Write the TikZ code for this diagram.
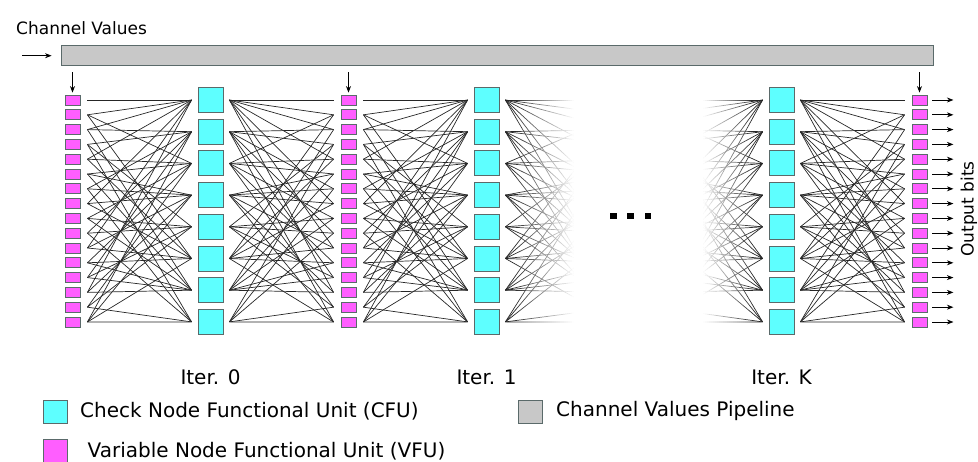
\documentclass[tikz,border=0pt]{standalone}
\usepackage{fontspec}
\setmainfont{DejaVu Sans}
\usetikzlibrary{arrows.meta}
\definecolor{vfu}{HTML}{FF5EFF}
\definecolor{cfu}{HTML}{5EFFFF}
\definecolor{pipe}{HTML}{C8C8C8}
\definecolor{boxline}{HTML}{5A6A6A}
\def\edgelist{0/0,1/0,1/2,1/5,2/1,2/0,2/6,3/1,3/4,3/7,4/2,4/0,4/5,5/2,5/6,5/3,6/3,6/1,6/7,7/3,7/0,7/5,8/4,8/2,8/6,9/4,9/1,9/7,10/5,10/3,10/0,11/5,11/6,11/2,12/6,12/4,12/1,13/6,13/3,13/0,14/7,14/2,14/4,15/7,15/1,15/3,15/5}
\begin{document}
\begin{tikzpicture}[x=1pt,y=-1pt,
  vfubox/.style={rectangle,draw=boxline,fill=vfu,line width=0.8pt,minimum width=15pt,minimum height=10pt,inner sep=0pt},
  cfubox/.style={rectangle,draw=boxline,fill=cfu,line width=0.8pt,minimum width=25pt,minimum height=25pt,inner sep=0pt},
  pipebox/.style={rectangle,draw=boxline,fill=pipe,line width=0.8pt,inner sep=0pt},
  edge/.style={draw=black!85,line width=0.7pt},
  arr/.style={-{Stealth[length=6.5pt,width=5pt]},line width=0.8pt},
  lbl/.style={font=\fontsize{20}{23}\selectfont,inner sep=0pt},
  small/.style={font=\fontsize{17}{20}\selectfont,inner sep=0pt},
]
\useasboundingbox (0,0) rectangle (978,462);

% columns of units
\foreach \n/\x in {vA/72.5, vB/348.5, vK/919.5}
  \foreach \i in {0,...,15}
    \node[vfubox] (\n-\i) at (\x,{100+14.8*\i}) {};
\foreach \n/\x in {cA/210.5, cB/486.5, cK/781.5}
  \foreach \j in {0,...,7}
    \node[cfubox] (\n-\j) at (\x,{100+31.7*\j}) {};
% hidden (faded) columns
\foreach \i in {0,...,15} {
  \coordinate (vC-\i) at (618,{100+14.8*\i});
  \coordinate (vJ-\i) at (657,{100+14.8*\i});
}

% edges
\foreach \v/\c in \edgelist {
  \draw[edge] ([xshift=7pt]vA-\v.east) -- ([xshift=-6pt]cA-\c.west);
  \draw[edge] ([xshift=6pt]cA-\c.east) -- ([xshift=-7pt]vB-\v.west);
  \draw[edge] ([xshift=7pt]vB-\v.east) -- ([xshift=-6pt]cB-\c.west);
  \draw[edge] ([xshift=6pt]cB-\c.east) -- (vC-\v);
  \draw[edge] (vJ-\v) -- ([xshift=-6pt]cK-\c.west);
  \draw[edge] ([xshift=6pt]cK-\c.east) -- ([xshift=-7pt]vK-\v.west);
}

% fading to white
\foreach \k in {0,...,29}
  \fill[white,fill opacity={(\k+0.5)/30}] ({514+2*\k},84) rectangle ({516+2*\k},340);
\fill[white] (574,84) rectangle (703,340);
\foreach \k in {0,...,24}
  \fill[white,fill opacity={1-(\k+0.5)/25}] ({703+2*\k},84) rectangle ({705+2*\k},340);

% redraw boxes on top
\foreach \n in {vA,vB,vK}
  \foreach \i in {0,...,15}
    \node[vfubox] at (\n-\i) {};
\foreach \n in {cA,cB,cK}
  \foreach \j in {0,...,7}
    \node[cfubox] at (\n-\j) {};

% dots
\foreach \x [count=\d] in {613.3,630.7,648}
  \node[fill=black,minimum size=6.5pt,inner sep=0pt] (dot\d) at (\x,216) {};

% pipeline
\node[pipebox,minimum width=872pt,minimum height=20pt] (bar) at (497,55.7) {};
\node[small,anchor=base west] (chv) at (16,35) {Channel Values};
\coordinate (inarr) at (22,55.7);
\draw[arr] (inarr) -- ([xshift=-9pt]bar.west);
\foreach \n in {vA,vB,vK} {
  \path (bar.south -| \n-0.north) coordinate (d\n);
  \draw[arr] ([yshift=-6pt]d\n) -- ([yshift=2pt]\n-0.north);
}

% outputs
\foreach \i in {0,...,15}
  \draw[arr] ([xshift=5pt]vK-\i.east) -- ++(21,0);
\node[small,rotate=90] (outbits) at (969,209) {Output bits};

% iteration labels
\node[lbl] (it0) at (210.5,377) {Iter. 0};
\node[lbl] (it1) at (486.5,377) {Iter. 1};
\node[lbl] (itk) at (781.5,377) {Iter. K};

% legend
\node[cfubox,minimum width=24pt,minimum height=23pt] (lgc) at (55,411.5) {};
\node[lbl,anchor=west] (lgct) at (80,411) {Check Node Functional Unit (CFU)};
\node[pipebox,minimum width=24pt,minimum height=23pt] (lgp) at (530.5,411.5) {};
\node[lbl,anchor=west] (lgpt) at (556,411) {Channel Values Pipeline};
\node[vfubox,minimum width=24pt,minimum height=24pt] (lgv) at (55,451) {};
\node[lbl,anchor=west] (lgvt) at (87.5,451) {Variable Node Functional Unit (VFU)};
\end{tikzpicture}
\end{document}
